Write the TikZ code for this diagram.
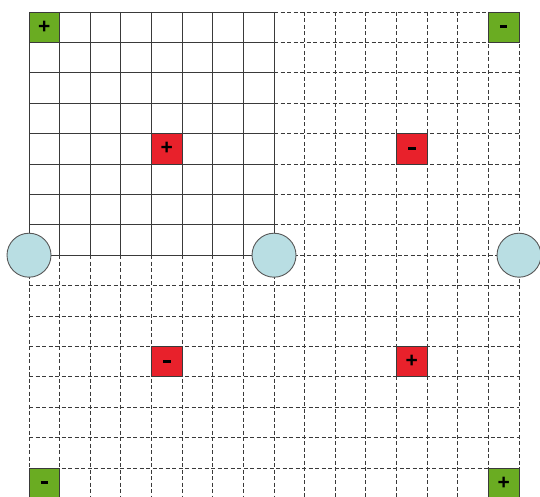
\documentclass[tikz,border=0pt]{standalone}
\usepackage{fontspec}
\setmainfont{Liberation Sans}
\definecolor{sqgreen}{HTML}{6AAC22}
\definecolor{sqred}{HTML}{E8212B}
\definecolor{circblue}{HTML}{B9DEE3}
\definecolor{gridgray}{HTML}{3A3A3A}
\tikzset{
  solidline/.style={draw=gridgray, line width=0.9pt},
  dashline/.style={draw=gridgray, line width=0.9pt, dash pattern=on 4pt off 2.5pt},
  cellbox/.style={draw=gridgray, line width=0.9pt, minimum width=30.625pt, minimum height=30.4pt, inner sep=0pt, font=\bfseries\fontsize{21}{21}\selectfont},
  greenbox/.style={cellbox, fill=sqgreen},
  redbox/.style={cellbox, fill=sqred},
  hole/.style={circle, draw=gridgray!85, line width=0.9pt, fill=circblue, minimum size=44pt, inner sep=0pt}
}
\newcommand{\plussign}{\raisebox{-1pt}{+}}
\newcommand{\minussign}{\raisebox{1pt}{\rule{7.5pt}{3pt}}}
\begin{document}
\begin{tikzpicture}[x=1pt,y=-1pt]
\useasboundingbox (0,0) rectangle (540,497);
\clip (0,0) rectangle (540,497);
\def\sx{30.625}
\def\sy{30.4}
\def\ox{29}
\def\oy{12}
% dashed grid
\foreach \i in {0,...,16}{
  \pgfmathsetmacro{\xx}{\ox+\i*\sx}
  \ifnum\i<9
    \draw[dashline] (\xx,\oy+8*\sy) -- (\xx,\oy+16*\sy);
  \else
    \draw[dashline] (\xx,\oy) -- (\xx,\oy+16*\sy);
  \fi
}
\foreach \j in {0,...,16}{
  \pgfmathsetmacro{\yy}{\oy+\j*\sy}
  \ifnum\j<9
    \draw[dashline] (\ox+8*\sx,\yy) -- (\ox+16*\sx,\yy);
  \else
    \draw[dashline] (\ox,\yy) -- (\ox+16*\sx,\yy);
  \fi
}
% solid grid
\foreach \i in {0,...,8}{
  \draw[solidline] (\ox+\i*\sx,\oy) -- (\ox+\i*\sx,\oy+8*\sy);
  \draw[solidline] (\ox,\oy+\i*\sy) -- (\ox+8*\sx,\oy+\i*\sy);
}
% squares
\node[greenbox] (g1) at (\ox+0.5*\sx,\oy+0.5*\sy) {\plussign};
\node[greenbox] (g2) at (\ox+15.5*\sx,\oy+0.5*\sy) {\minussign};
\node[greenbox] (g3) at (\ox+0.5*\sx,\oy+15.5*\sy) {\minussign};
\node[greenbox] (g4) at (\ox+15.5*\sx,\oy+15.5*\sy) {\plussign};
\node[redbox] (r1) at (\ox+4.5*\sx,\oy+4.5*\sy) {\plussign};
\node[redbox] (r2) at (\ox+12.5*\sx,\oy+4.5*\sy) {\minussign};
\node[redbox] (r3) at (\ox+4.5*\sx,\oy+11.5*\sy) {\minussign};
\node[redbox] (r4) at (\ox+12.5*\sx,\oy+11.5*\sy) {\plussign};
% circles
\node[hole] (c1) at (\ox,\oy+8*\sy) {};
\node[hole] (c2) at (\ox+8*\sx,\oy+8*\sy) {};
\node[hole] (c3) at (\ox+16*\sx,\oy+8*\sy) {};
\end{tikzpicture}
\end{document}
